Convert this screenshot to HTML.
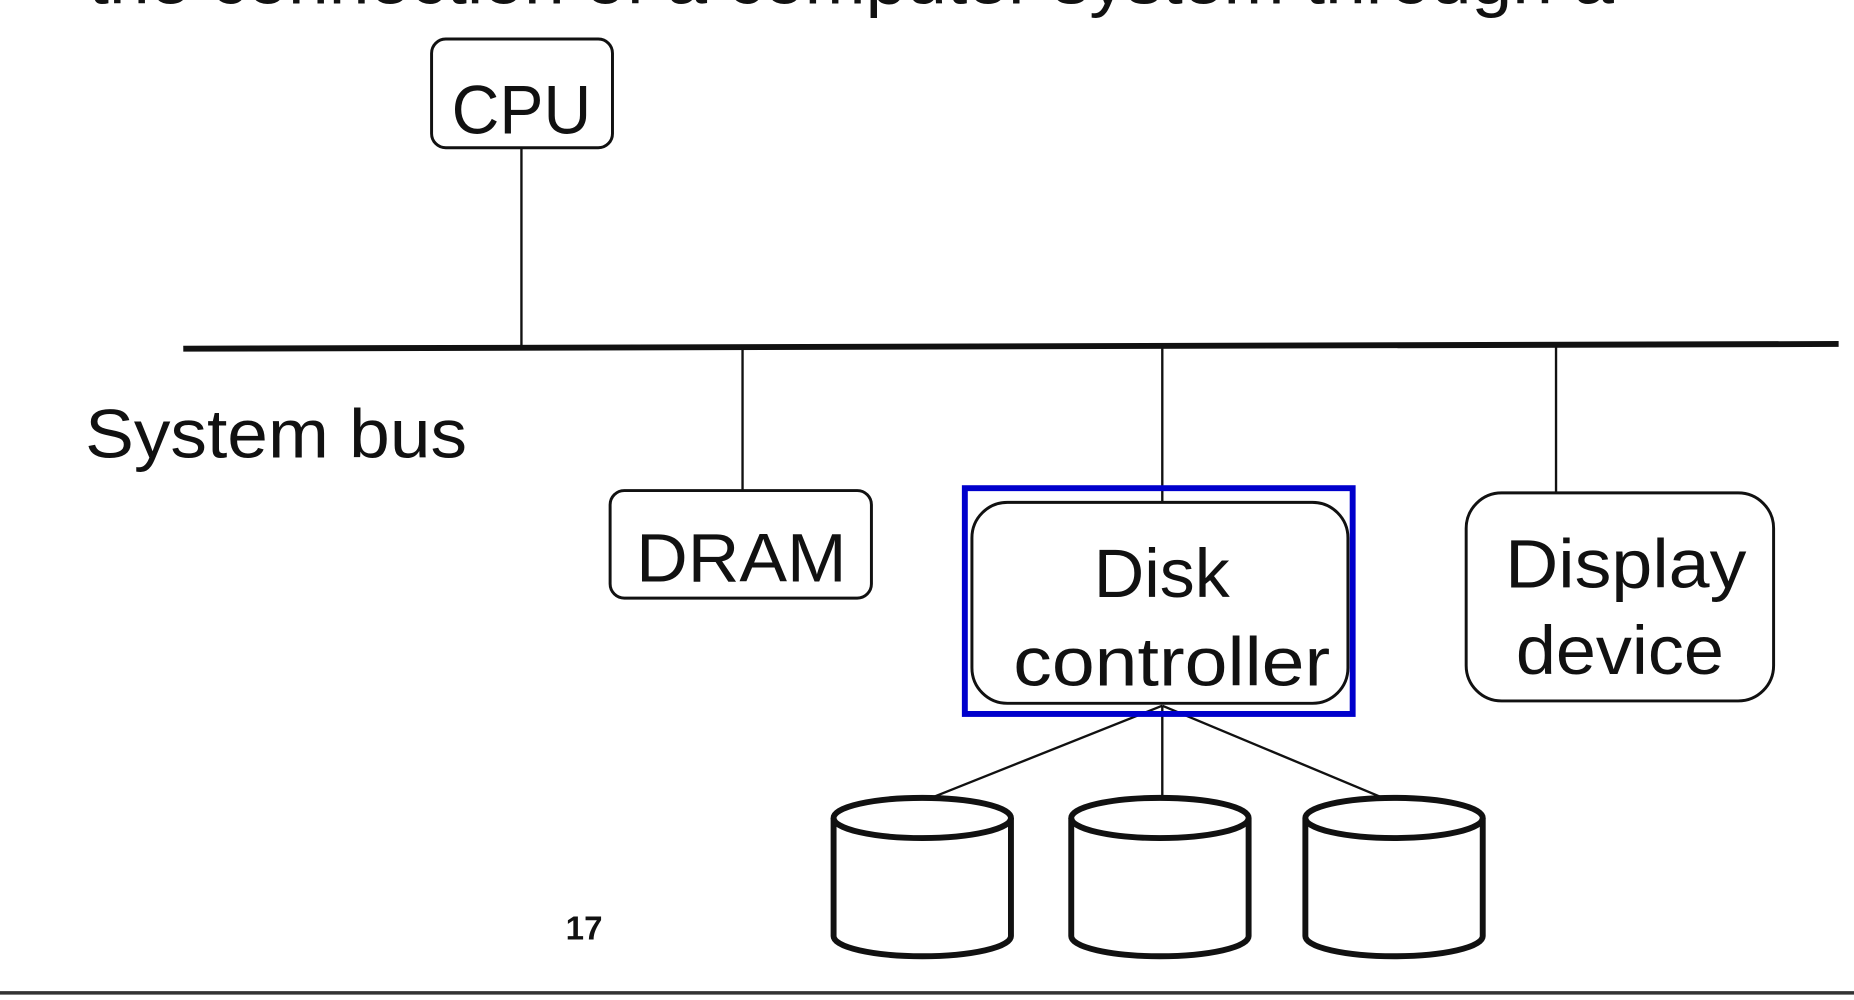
<!DOCTYPE html>
<html><head><meta charset="utf-8"><style>
html,body{margin:0;padding:0;background:#fff;overflow:hidden}
svg{display:block}
text{font-family:"Liberation Sans","Noto Sans CJK KR",sans-serif;fill:#111}
</style></head><body>
<svg width="1854" height="1000" viewBox="0 0 1568 846" preserveAspectRatio="none" xmlns="http://www.w3.org/2000/svg">
<rect width="1568" height="846" fill="#fff"/>
<text x="75" y="3" font-size="58" textLength="1290" lengthAdjust="spacingAndGlyphs">the connection of a computer system through a</text>
<g fill="none" stroke="#111">
<rect x="365" y="33" width="153" height="92" rx="12" stroke-width="2.5"/>
<line x1="441" y1="125" x2="441" y2="294" stroke-width="2"/>
<line x1="155" y1="295" x2="1555" y2="291" stroke-width="5"/>
<line x1="628" y1="294" x2="628" y2="415" stroke-width="2"/>
<rect x="516" y="415" width="221" height="91" rx="12" stroke-width="2.5"/>
<line x1="983" y1="294" x2="983" y2="425" stroke-width="2"/>
<rect x="822" y="425" width="318" height="170" rx="30" stroke-width="2.5"/>
<line x1="1316" y1="293" x2="1316" y2="417" stroke-width="2"/>
<rect x="1240" y="417" width="260" height="176" rx="30" stroke-width="2.5"/>
<line x1="983" y1="597" x2="785" y2="676" stroke-width="2"/>
<line x1="983" y1="597" x2="983" y2="676" stroke-width="2"/>
<line x1="983" y1="597" x2="1172" y2="676" stroke-width="2"/>
<g stroke-width="5">
<path d="M705 692 V792 A75 17 0 0 0 855 792 V692"/><ellipse cx="780" cy="692" rx="75" ry="17"/>
<path d="M906 692 V792 A75 17 0 0 0 1056 792 V692"/><ellipse cx="981" cy="692" rx="75" ry="17"/>
<path d="M1104 692 V792 A75 17 0 0 0 1254 792 V692"/><ellipse cx="1179" cy="692" rx="75" ry="17"/>
</g>
<rect x="816" y="413" width="328" height="191" stroke="#0000cc" stroke-width="5"/>
<line x1="0" y1="840" x2="1568" y2="840" stroke="#333" stroke-width="3"/>
</g>
<text x="382" y="113" font-size="58" textLength="118" lengthAdjust="spacingAndGlyphs">CPU</text>
<text x="72" y="387" font-size="58" textLength="323" lengthAdjust="spacingAndGlyphs">System bus</text>
<text x="538" y="492" font-size="58" textLength="178" lengthAdjust="spacingAndGlyphs">DRAM</text>
<text x="925" y="505" font-size="58" textLength="115" lengthAdjust="spacingAndGlyphs">Disk</text>
<text x="857" y="580" font-size="58" textLength="268" lengthAdjust="spacingAndGlyphs">controller</text>
<text x="1273" y="497" font-size="58" textLength="204" lengthAdjust="spacingAndGlyphs">Display</text>
<text x="1282" y="570" font-size="58" textLength="176" lengthAdjust="spacingAndGlyphs">device</text>
<text x="494" y="795" font-size="28" font-weight="bold" text-anchor="middle">17</text>
</svg>
</body></html>
